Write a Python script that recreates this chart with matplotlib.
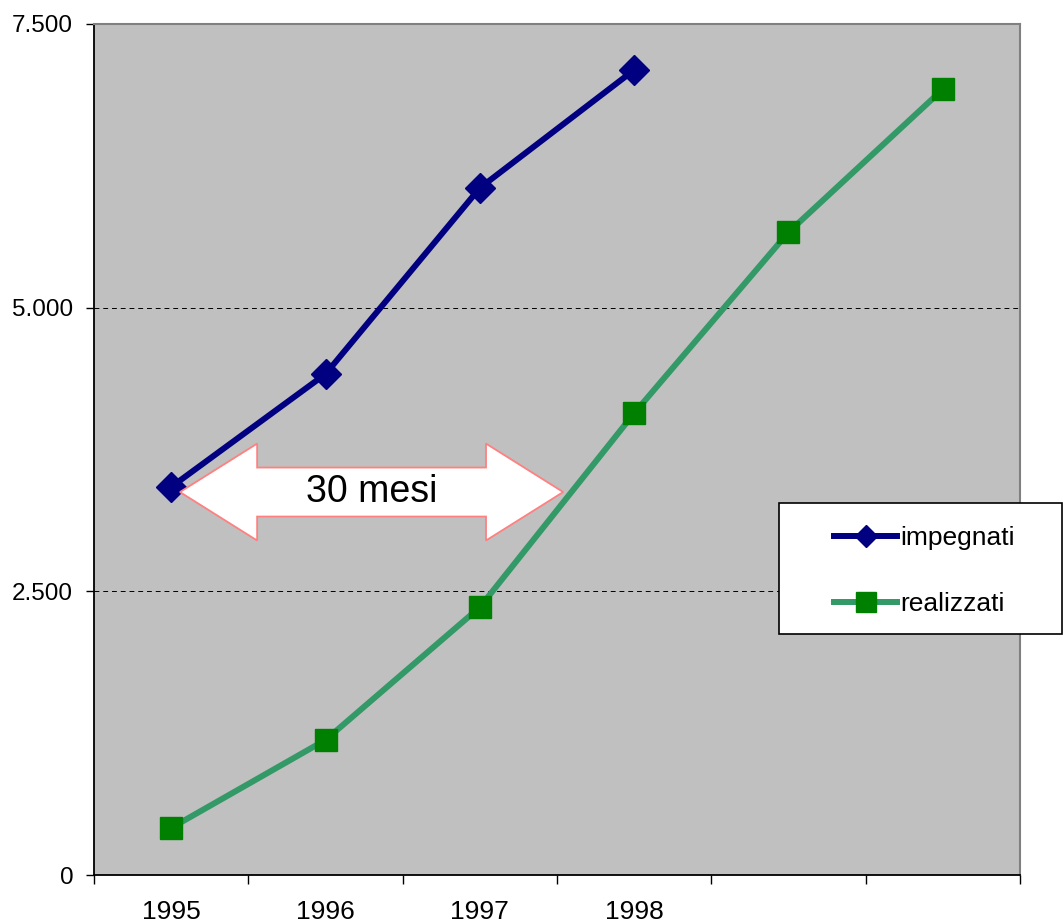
import matplotlib
matplotlib.use("Agg")
import matplotlib.pyplot as plt
from matplotlib.patches import Polygon, Rectangle
from matplotlib.ticker import FixedLocator, NullFormatter

plt.rcParams['font.family'] = ['Liberation Sans', 'DejaVu Sans']

categories = ["1995", "1996", "1997", "1998", "", ""]
impegnati = [3420, 4415, 6055, 7095]
realizzati = [415, 1190, 2360, 4070, 5665, 6925]
yticks = [0, 2500, 5000, 7500]
ytick_labels = ["0", "2.500", "5.000", "7.500"]
arrow_label = "30 mesi"

W, H = 1063, 923
fig = plt.figure(figsize=(W / 100, H / 100), dpi=100)
ax = fig.add_axes([94/W, 48/H, (1020-94)/W, (875-24)/H])
ax.set_facecolor("#C0C0C0")

x_imp = list(range(len(impegnati)))
x_rea = list(range(len(realizzati)))

ax.plot(x_imp, impegnati, color="#000080", lw=4.3, marker="D", ms=15,
        mfc="#000080", mec="#000080", label="impegnati", zorder=4)
ax.plot(x_rea, realizzati, color="#339966", lw=4.3, marker="s", ms=16,
        mfc="#008000", mec="#008000", label="realizzati", zorder=4)

ax.set_xlim(-0.5, len(categories) - 0.5)
ax.set_ylim(0, 7500)

# x ticks at category boundaries, labels centered
ax.xaxis.set_major_locator(FixedLocator([i - 0.5 for i in range(len(categories) + 1)]))
ax.xaxis.set_major_formatter(NullFormatter())
ax.xaxis.set_minor_locator(FixedLocator(list(range(len(categories)))))
ax.set_xticklabels(categories, minor=True)
ax.tick_params(axis="x", which="major", direction="out", length=6.5, width=1, color="black")
ax.tick_params(axis="x", which="minor", length=0, pad=18, labelsize=19)

ax.set_yticks(yticks)
ax.set_yticklabels(ytick_labels)
ax.tick_params(axis="y", direction="out", length=6, width=1, color="black", labelsize=17.5, pad=9)

ax.grid(axis="y", color="black", linestyle=(0, (5, 4)), linewidth=0.7)
ax.set_axisbelow(True)

for s in ["top", "right"]:
    ax.spines[s].set_color("#808080")
    ax.spines[s].set_linewidth(1.5)
for s in ["left", "bottom"]:
    ax.spines[s].set_color("black")
    ax.spines[s].set_linewidth(1.3)

# double-headed arrow
x0, x1 = 0.057, 2.54
yc = 3375
hh, sh, hl = 427, 216, 0.5
pts = [(x0, yc), (x0 + hl, yc + hh), (x0 + hl, yc + sh), (x1 - hl, yc + sh),
       (x1 - hl, yc + hh), (x1, yc), (x1 - hl, yc - hh), (x1 - hl, yc - sh),
       (x0 + hl, yc - sh), (x0 + hl, yc - hh)]
arrow = Polygon(pts, closed=True, facecolor="white", edgecolor="#FF8080", lw=1.3, zorder=5)
ax.add_patch(arrow)
ax.text((x0 + x1) / 2, yc, arrow_label, ha="center", va="center", fontsize=27, zorder=6)

# legend box
box = Rectangle((779/W, (H-634)/H), (1062-779)/W, (634-503)/H, transform=fig.transFigure,
                facecolor="white", edgecolor="black", lw=1.2, zorder=1)
fig.patches.append(box)
leg = fig.legend(loc="upper left", bbox_to_anchor=(834/W, (H-526)/H),
                 fontsize=19, frameon=False, handlelength=2.4, handletextpad=0.1,
                 labelspacing=1.6, borderpad=0, borderaxespad=0)
leg.set_zorder(2)
for h, ms in zip(leg.legend_handles, [11, 14]):
    h.set_markersize(ms)

fig.savefig("out.png", dpi=100)
